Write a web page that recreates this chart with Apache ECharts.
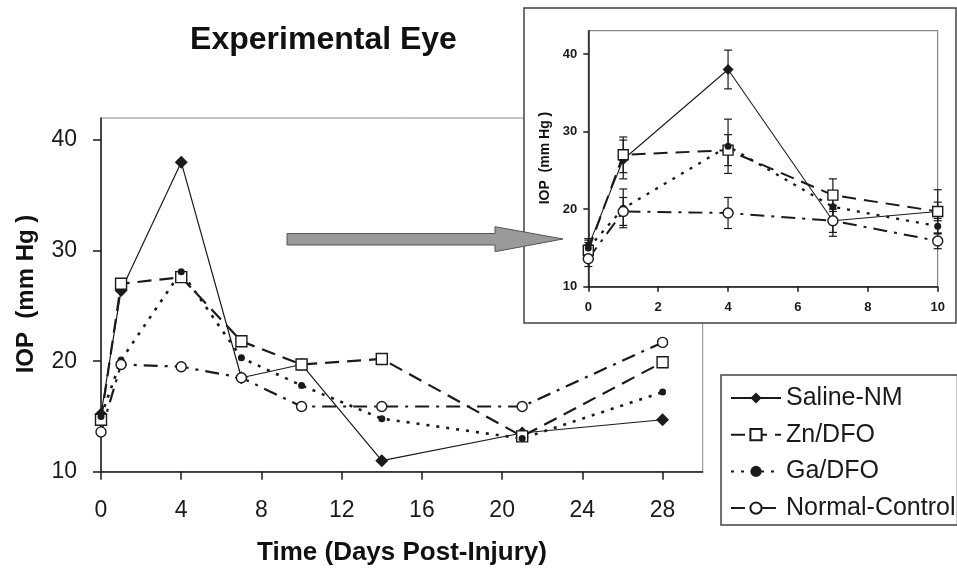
<!DOCTYPE html>
<html>
<head>
<meta charset="utf-8">
<script src="https://cdn.jsdelivr.net/npm/echarts@6/dist/echarts.min.js"></script>
<style>
  html, body { margin: 0; padding: 0; background: #fff; }
  #chart { width: 957px; height: 568px; }
</style>
</head>
<body>
<div id="chart"></div>
<script>
// days of measurement
var days = [0, 1, 4, 7, 10, 14, 21, 28];
// mean IOP (mm Hg)
var salineNM = [15.2, 26.4, 38.0, 18.5, 19.7, 11.0, 13.5, 14.7];
var znDFO = [14.7, 27.0, 27.6, 21.8, 19.7, 20.2, 13.2, 19.9];
var gaDFO = [15.0, 20.1, 28.1, 20.3, 17.8, 14.8, 13.0, 17.2];
var normalControl = [13.6, 19.7, 19.5, 18.5, 15.9, 15.9, 15.9, 21.7];
// inset: first 5 days with error bars (+/-)
var insetCount = 5;
var salineErr = [1.0, 2.5, 2.5, 1.5, 1.2];
var znErr = [1.0, 2.3, 2.0, 2.1, 2.8];
var gaErr = [1.0, 2.5, 3.5, 1.5, 1.0];
var normalErr = [1.0, 1.8, 2.0, 2.0, 1.0];
// tick labels
var mainXTicks = [0, 4, 8, 12, 16, 20, 24, 28];
var yTicks = [10, 20, 30, 40];
var insetXTicks = [0, 2, 4, 6, 8, 10];

var FONT = '"Liberation Sans", Arial, sans-serif';
var INK = '#1a1a1a';

function pairs(vals, n) {
  var out = [];
  for (var i = 0; i < (n || vals.length); i++) out.push([days[i], vals[i]]);
  return out;
}
function errData(vals, errs) {
  var out = [];
  for (var i = 0; i < errs.length; i++) out.push([days[i], vals[i] - errs[i], vals[i] + errs[i]]);
  return out;
}

// 4 series styles, shared by main and inset
var styles = [
  { name: 'Saline-NM', vals: salineNM, errs: salineErr, symbol: 'diamond', size: 13, insetSize: 11,
    line: { width: 1.2, type: 'solid' }, item: { color: INK } },
  { name: 'Zn/DFO', vals: znDFO, errs: znErr, symbol: 'rect', size: 11, insetSize: 10,
    line: { width: 2.2, type: [14, 8] }, item: { color: '#fff', borderColor: INK, borderWidth: 1.4 } },
  { name: 'Ga/DFO', vals: gaDFO, errs: gaErr, symbol: 'circle', size: 7, insetSize: 7,
    line: { width: 2.6, type: [3, 7] }, item: { color: INK } },
  { name: 'Normal-Control', vals: normalControl, errs: normalErr, symbol: 'circle', size: 10, insetSize: 10,
    line: { width: 2.2, type: [14, 7, 3, 7] }, item: { color: '#fff', borderColor: INK, borderWidth: 1.4 } }
];

function errorBarItem(params, api) {
  var x = api.value(0);
  var top = api.coord([x, api.value(2)]);
  var bot = api.coord([x, api.value(1)]);
  var w = 4;
  var st = { stroke: INK, lineWidth: 1.2 };
  return {
    type: 'group',
    children: [
      { type: 'line', shape: { x1: top[0], y1: top[1], x2: bot[0], y2: bot[1] }, style: st },
      { type: 'line', shape: { x1: top[0] - w, y1: top[1], x2: top[0] + w, y2: top[1] }, style: st },
      { type: 'line', shape: { x1: bot[0] - w, y1: bot[1], x2: bot[0] + w, y2: bot[1] }, style: st }
    ]
  };
}

var series = [];
styles.forEach(function (s) {
  series.push({
    name: s.name, type: 'line', xAxisIndex: 0, yAxisIndex: 0,
    data: pairs(s.vals),
    symbol: s.symbol, symbolSize: s.size, showAllSymbol: true,
    lineStyle: { color: INK, width: s.line.width, type: s.line.type },
    itemStyle: s.item, z: 3
  });
});
styles.forEach(function (s) {
  series.push({
    name: s.name + ' err', type: 'custom', xAxisIndex: 1, yAxisIndex: 1, zlevel: 1, z: 2,
    data: errData(s.vals, s.errs), encode: { x: 0, y: [1, 2] },
    renderItem: errorBarItem, silent: true
  });
});
styles.forEach(function (s) {
  series.push({
    name: s.name, type: 'line', xAxisIndex: 1, yAxisIndex: 1, zlevel: 1, z: 3,
    data: pairs(s.vals, insetCount),
    symbol: s.symbol, symbolSize: s.insetSize,
    lineStyle: { color: INK, width: s.line.width * 0.9, type: s.line.type },
    itemStyle: s.item
  });
});

var chart = echarts.init(document.getElementById('chart'), null, { renderer: 'canvas' });
chart.setOption({
  animation: false,
  backgroundColor: '#fff',
  textStyle: { fontFamily: FONT },
  grid: [
    { left: 101, top: 118, width: 601.7, height: 353.7, show: true, borderColor: '#8a8a8a', borderWidth: 1 },
    { left: 588.3, top: 30.7, width: 349.4, height: 256, show: true, borderColor: '#6a6a6a', borderWidth: 1,
      zlevel: 1, z: 0 }
  ],
  xAxis: [
    { type: 'value', gridIndex: 0, min: 0, max: 30, interval: 4,
      splitLine: { show: false },
      axisLine: { lineStyle: { color: INK, width: 1.5 } },
      axisTick: { length: 8, lineStyle: { color: INK, width: 1.5 }, customValues: mainXTicks },
      axisLabel: { fontSize: 23, color: INK, margin: 27, customValues: mainXTicks } },
    { type: 'value', gridIndex: 1, min: 0, max: 10, interval: 2, zlevel: 1,
      splitLine: { show: false },
      axisLine: { lineStyle: { color: INK, width: 1.5 } },
      axisTick: { length: 5, lineStyle: { color: INK, width: 1.5 }, customValues: insetXTicks },
      axisLabel: { fontSize: 13, fontWeight: 'bold', color: INK, margin: 14, customValues: insetXTicks } }
  ],
  yAxis: [
    { type: 'value', gridIndex: 0, min: 10, max: 42, interval: 10,
      splitLine: { show: false },
      axisLine: { show: true, lineStyle: { color: INK, width: 1.5 } },
      axisTick: { show: true, length: 8, lineStyle: { color: INK, width: 1.5 }, customValues: yTicks },
      axisLabel: { fontSize: 23, color: INK, margin: 24, customValues: yTicks } },
    { type: 'value', gridIndex: 1, min: 10, max: 43, interval: 10, zlevel: 1,
      splitLine: { show: false },
      axisLine: { show: true, lineStyle: { color: INK, width: 1.5 } },
      axisTick: { show: true, length: 5, lineStyle: { color: INK, width: 1.5 }, customValues: yTicks },
      axisLabel: { fontSize: 13, fontWeight: 'bold', color: INK, margin: 11, customValues: yTicks } }
  ],
  legend: {
    orient: 'vertical', left: 721, top: 375,
    data: styles.map(function (s) { return s.name; }),
    padding: [10, 2, 4, 9],
    itemWidth: 50, itemHeight: 14, itemGap: 10.7,
    borderColor: '#444', borderWidth: 1.5,
    selectedMode: false,
    textStyle: { fontSize: 25, color: INK, fontFamily: FONT, lineHeight: 26 }
  },
  graphic: [
    // inset outer frame, covering main plot behind it
    { type: 'rect', zlevel: 1, z: -100, silent: true,
      shape: { x: 524, y: 8, width: 432, height: 315 },
      style: { fill: '#fff', stroke: '#444', lineWidth: 1.5 } },
    // pointer arrow
    { type: 'polygon', zlevel: 1, z: 100, silent: true,
      shape: { points: [[287, 233.5], [495, 233.5], [495, 226.7], [563, 239], [495, 251.7], [495, 245], [287, 245]] },
      style: { fill: '#9a9a9a', stroke: '#555', lineWidth: 1 } },
    { type: 'text', x: 323.5, y: 40, silent: true,
      style: { text: 'Experimental Eye', font: 'bold 32px ' + FONT, fill: '#111', textAlign: 'center', textVerticalAlign: 'middle' } },
    { type: 'text', x: 26, y: 294, rotation: Math.PI / 2, silent: true,
      style: { text: 'IOP  (mm Hg )', font: 'bold 24px ' + FONT, fill: '#111', textAlign: 'center', textVerticalAlign: 'middle' } },
    { type: 'text', x: 402, y: 553, silent: true,
      style: { text: 'Time (Days Post-Injury)', font: 'bold 26px ' + FONT, fill: '#111', textAlign: 'center', textVerticalAlign: 'middle' } },
    { type: 'text', x: 545, y: 158, rotation: Math.PI / 2, zlevel: 1, z: 100, silent: true,
      style: { text: 'IOP  (mm Hg )', font: 'bold 14px ' + FONT, fill: '#111', textAlign: 'center', textVerticalAlign: 'middle' } }
  ],
  series: series
});
</script>
</body>
</html>
